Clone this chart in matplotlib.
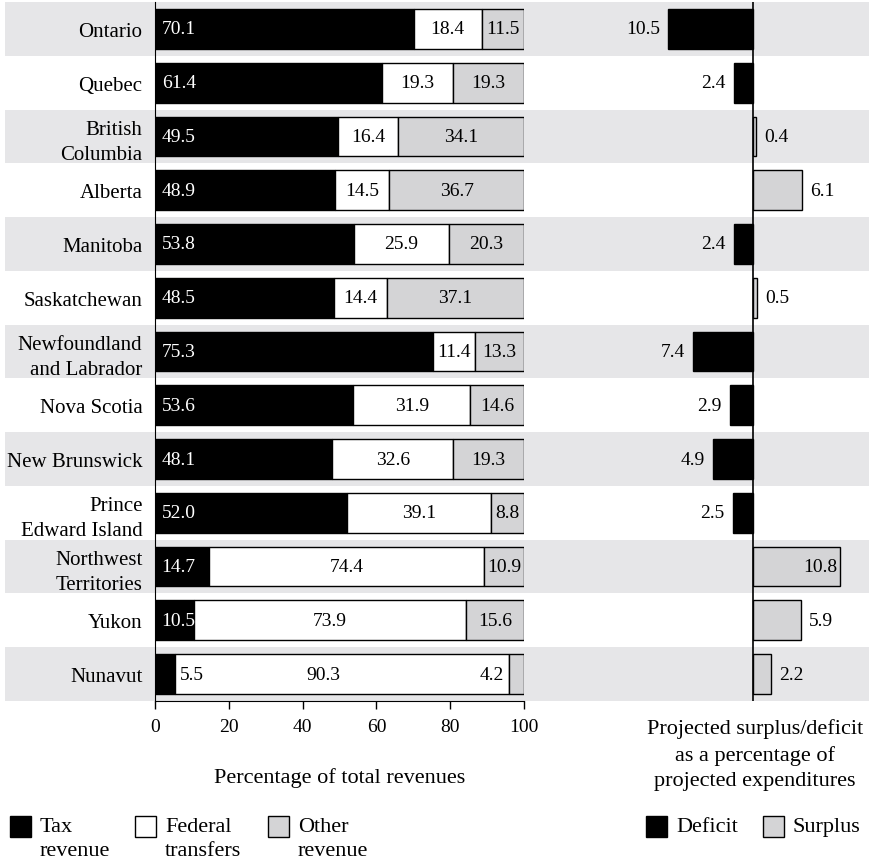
import matplotlib.pyplot as plt
import matplotlib.transforms as mtransforms
from matplotlib.patches import Rectangle

plt.rcParams['font.family'] = ['Liberation Serif', 'DejaVu Serif']

provinces = ['Ontario', 'Quebec', 'British\nColumbia', 'Alberta', 'Manitoba',
             'Saskatchewan', 'Newfoundland\nand Labrador', 'Nova Scotia',
             'New Brunswick', 'Prince\nEdward Island', 'Northwest\nTerritories',
             'Yukon', 'Nunavut']
tax = [70.1, 61.4, 49.5, 48.9, 53.8, 48.5, 75.3, 53.6, 48.1, 52.0, 14.7, 10.5, 5.5]
federal = [18.4, 19.3, 16.4, 14.5, 25.9, 14.4, 11.4, 31.9, 32.6, 39.1, 74.4, 73.9, 90.3]
other = [11.5, 19.3, 34.1, 36.7, 20.3, 37.1, 13.3, 14.6, 19.3, 8.8, 10.9, 15.6, 4.2]
balance = [-10.5, -2.4, 0.4, 6.1, -2.4, 0.5, -7.4, -2.9, -4.9, -2.5, 10.8, 5.9, 2.2]

BLACK = '#000000'
GREY = '#d4d4d6'
BAND = '#e6e6e8'

W, H = 869, 862
fig = plt.figure(figsize=(W / 100, H / 100), dpi=100)

bottom = 1 - 702 / H
height = 699 / H
axL = fig.add_axes([155 / W, bottom, 369 / W, height])
axR = fig.add_axes([560 / W, bottom, 309 / W, height])
for ax in (axL, axR):
    ax.set_facecolor('none')
    ax.set_ylim(len(provinces) - 0.5, -0.5)

y = list(range(len(provinces)))
bh = 0.74

# alternating background bands across the whole width
tr = mtransforms.blended_transform_factory(fig.transFigure, axL.transData)
for i in y:
    if i % 2 == 0:
        fig.add_artist(Rectangle((5 / W, i - 0.5), 1 - 5 / W, 1, transform=tr,
                                 facecolor=BAND, edgecolor='none', zorder=-5))

# left panel: revenue composition
left_oth = [t + f for t, f in zip(tax, federal)]
axL.barh(y, tax, height=bh, color=BLACK, edgecolor=BLACK, lw=1)
axL.barh(y, federal, left=tax, height=bh, color='white', edgecolor=BLACK, lw=1)
axL.barh(y, other, left=left_oth, height=bh, color=GREY, edgecolor=BLACK, lw=1)

fs_val = 14
for i in y:
    t, f, o = tax[i], federal[i], other[i]
    if t >= 10:
        axL.text(1.8, i, f'{t:.1f}', color='white', ha='left', va='center', fontsize=fs_val)
    else:
        axL.text(t + 1.3, i, f'{t:.1f}', color=BLACK, ha='left', va='center', fontsize=fs_val)
    if t < 10:
        axL.text(45.5, i, f'{f:.1f}', ha='center', va='center', fontsize=fs_val)
    else:
        axL.text(t + f / 2, i, f'{f:.1f}', ha='center', va='center', fontsize=fs_val)
    if o >= 6:
        axL.text(t + f + o / 2, i, f'{o:.1f}', ha='center', va='center', fontsize=fs_val)
    else:
        axL.text(t + f - 1.3, i, f'{o:.1f}', ha='right', va='center', fontsize=fs_val)

axL.set_xlim(0, 100)
axL.set_xticks([0, 20, 40, 60, 80, 100])
axL.tick_params(axis='x', direction='out', length=6, width=1, labelsize=14, pad=6)
axL.set_yticks(y)
axL.set_yticklabels(provinces, fontsize=15)
for lab in axL.get_yticklabels():
    lab.set_linespacing(1.4)
axL.tick_params(axis='y', length=0, pad=9)
axL.spines['top'].set_visible(False)
axL.spines['right'].set_visible(False)
axL.set_xlabel('Percentage of total revenues', fontsize=16, labelpad=23)

# right panel: projected surplus / deficit
scale = 8.1
axR.set_xlim(-(753 - 560) / scale, (869 - 753) / scale)
cols = [BLACK if b < 0 else GREY for b in balance]
axR.barh(y, balance, height=bh, color=cols, edgecolor=BLACK, lw=1)
axR.axvline(0, color=BLACK, lw=1.2)
for i, b in enumerate(balance):
    if b < 0:
        axR.text(b - 1.0, i, f'{abs(b):.1f}', ha='right', va='center', fontsize=fs_val)
    elif b > 10:
        axR.text(b - 0.4, i, f'{b:.1f}', ha='right', va='center', fontsize=fs_val)
    else:
        axR.text(b + 1.0, i, f'{b:.1f}', ha='left', va='center', fontsize=fs_val)
axR.set_xticks([])
axR.set_yticks([])
for s in axR.spines.values():
    s.set_visible(False)

fig.text(755 / W, 1 - 719 / H,
         'Projected surplus/deficit\nas a percentage of\nprojected expenditures',
         ha='center', va='top', fontsize=16, linespacing=1.45)

# legends
def swatch(x0, color, label_lines):
    fig.add_artist(Rectangle((x0 / W, 1 - 838 / H), 21 / W, 21 / H,
                             transform=fig.transFigure, facecolor=color,
                             edgecolor=BLACK, lw=1))
    for k, line in enumerate(label_lines):
        fig.text((x0 + 30) / W, 1 - (832 + 24 * k) / H, line,
                 ha='left', va='baseline', fontsize=16)

swatch(10, BLACK, ['Tax', 'revenue'])
swatch(135, 'white', ['Federal', 'transfers'])
swatch(268, GREY, ['Other', 'revenue'])
swatch(646, BLACK, ['Deficit'])
swatch(763, GREY, ['Surplus'])

fig.savefig('out.png', dpi=100)
